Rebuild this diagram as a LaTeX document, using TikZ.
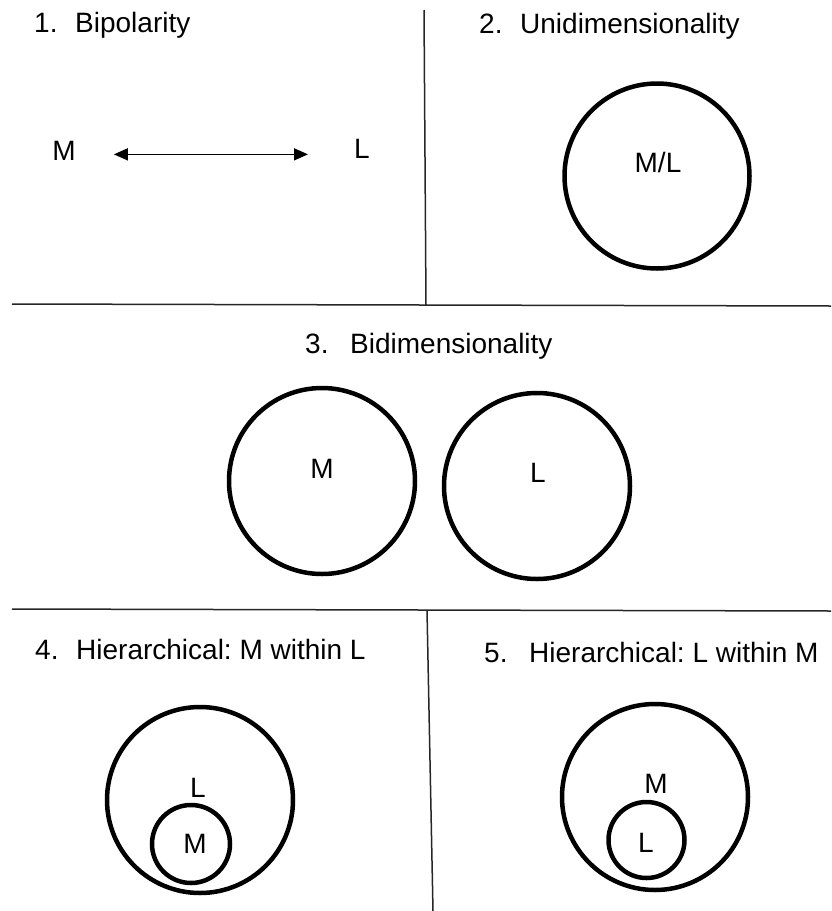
\documentclass[tikz,border=0pt]{standalone}
\usepackage{fontspec}
\setmainfont{Liberation Sans}
\usetikzlibrary{arrows.meta}

\tikzset{
  label text/.style={inner sep=0pt, font=\fontsize{28}{34}\selectfont},
  heading/.style={label text, anchor=base west},
  tag/.style={label text, anchor=base},
  ring/.style={circle, draw=black, line width=4.5pt, inner sep=0pt},
  divider/.style={line width=1.5pt, draw=black!85},
  dblarrow/.style={line width=1.5pt, {Triangle[length=14pt,width=12pt]}-{Triangle[length=14pt,width=12pt]}},
}

\newcommand{\numtitle}[3]{\makebox[#1][l]{#2}#3}
\frenchspacing

\begin{document}
\begin{tikzpicture}[x=1pt, y=-1pt]
  \useasboundingbox (0,0) rectangle (831,911);

  % panel dividers
  \coordinate (v1a) at (424,10);   \coordinate (v1b) at (426,305);
  \coordinate (h1a) at (12,304);   \coordinate (h1b) at (831,306);
  \coordinate (h2a) at (12,609);   \coordinate (h2b) at (831,611);
  \coordinate (v2a) at (427,610);  \coordinate (v2b) at (433,911);
  \draw[divider] (v1a) -- (v1b);
  \draw[divider] (h1a) -- (h1b);
  \draw[divider] (h2a) -- (h2b);
  \draw[divider] (v2a) -- (v2b);

  % headings
  \node[heading] (t1) at (34,32)  {\numtitle{41pt}{1.}{Bipolarity}};
  \node[heading] (t2) at (479,33) {\numtitle{41pt}{2.}{Unidimensionality}};
  \node[heading] (t3) at (305,353) {\numtitle{45pt}{3.}{Bidimensionality}};
  \node[heading] (t4) at (35,659) {\numtitle{41pt}{4.}{Hierarchical: M within L}};
  \node[heading] (t5) at (484,662) {\numtitle{45pt}{5.}{Hierarchical: L within M}};

  % 1. bipolarity
  \node[tag] (m1) at (64,160) {M};
  \node[tag] (l1) at (362,158) {L};
  \draw[dblarrow] ([xshift=38pt,yshift=-4pt]m1.east) -- ([xshift=-46pt,yshift=-6pt]l1.west);

  % 2. unidimensionality
  \node[ring, minimum size=185pt] (c2) at (657,176) {};
  \node[tag] (ml2) at (658,172) {M/L};

  % 3. bidimensionality
  \node[ring, minimum size=186pt] (c3m) at (322,481) {};
  \node[ring, minimum size=186pt] (c3l) at (537,486) {};
  \node[tag] (m3) at (322,478) {M};
  \node[tag] (l3) at (538,482) {L};

  % 4. M within L
  \node[ring, minimum size=186pt] (c4o) at (200,800) {};
  \node[ring, minimum size=78pt] (c4i) at (191,844) {};
  \node[tag] (l4) at (198,797) {L};
  \node[tag] (m4) at (195,853) {M};

  % 5. L within M
  \node[ring, minimum size=186pt] (c5o) at (655,797) {};
  \node[ring, minimum size=76pt] (c5i) at (646.5,840) {};
  \node[tag] (m5) at (656,793) {M};
  \node[tag] (l5) at (646,852) {L};
\end{tikzpicture}
\end{document}
